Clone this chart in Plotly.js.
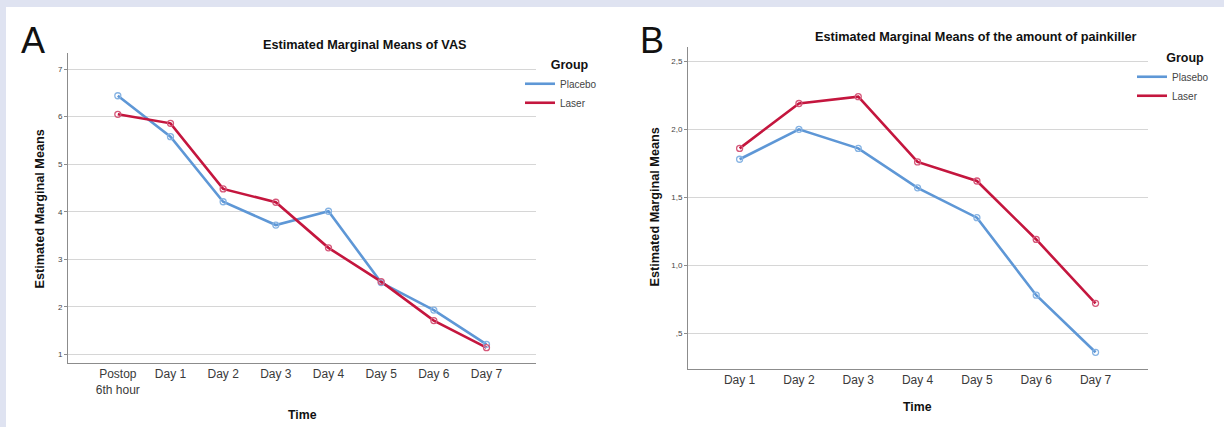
<!DOCTYPE html>
<html>
<head>
<meta charset="utf-8">
<script src="https://cdn.plot.ly/plotly-3.0.1.min.js"></script>
<style>html,body{margin:0;padding:0;background:#fff;}#chart{width:1224px;height:427px;}</style>
</head>
<body>
<div id="chart"></div>
<script>
// ---- Panel A: VAS ----
const timeA = ["Postop<br>6th hour", "Day 1", "Day 2", "Day 3", "Day 4", "Day 5", "Day 6", "Day 7"];
const vasPlacebo = [6.44, 5.58, 4.21, 3.72, 4.01, 2.51, 1.93, 1.21];
const vasLaser   = [6.05, 5.86, 4.48, 4.20, 3.24, 2.53, 1.71, 1.14];
const yTicksA = [1, 2, 3, 4, 5, 6, 7];
const yTickTextA = ["1", "2", "3", "4", "5", "6", "7"];

// ---- Panel B: amount of painkiller ----
const timeB = ["Day 1", "Day 2", "Day 3", "Day 4", "Day 5", "Day 6", "Day 7"];
const painPlacebo = [1.78, 2.00, 1.86, 1.57, 1.35, 0.78, 0.36];
const painLaser   = [1.86, 2.19, 2.24, 1.76, 1.62, 1.19, 0.72];
const yTicksB = [0.5, 1.0, 1.5, 2.0, 2.5];
const yTickTextB = [",5", "1,0", "1,5", "2,0", "2,5"];

const namesA = ["Placebo", "Laser"];
const namesB = ["Plasebo", "Laser"];

const BLUE = "#5e97d6", BLUE_M = "#86b3e3";
const RED = "#c4163e", RED_M = "#d5587a";
const FONT = "Liberation Sans, Arial, sans-serif";
const W = 1224, H = 427;
const px = x => x / W;
const py = y => 1 - y / H;

function lineTrace(x, y, name, color, xa, ya, leg) {
  return {x: x, y: y, name: name, type: "scatter", mode: "lines",
    line: {color: color, width: 2.6}, xaxis: xa, yaxis: ya, legend: leg, hoverinfo: "x+y+name"};
}
function markerTrace(x, y, name, color, xa, ya) {
  return {x: x, y: y, name: name, type: "scatter", mode: "markers", showlegend: false,
    marker: {symbol: "circle-open", size: 6, color: color, line: {color: color, width: 1.3}},
    xaxis: xa, yaxis: ya, hoverinfo: "skip"};
}

const data = [
  lineTrace(timeA, vasPlacebo, namesA[0], BLUE, "x", "y", "legend"),
  lineTrace(timeA, vasLaser, namesA[1], RED, "x", "y", "legend"),
  markerTrace(timeA, vasPlacebo, namesA[0], BLUE_M, "x", "y"),
  markerTrace(timeA, vasLaser, namesA[1], RED_M, "x", "y"),
  lineTrace(timeB, painPlacebo, namesB[0], BLUE, "x2", "y2", "legend2"),
  lineTrace(timeB, painLaser, namesB[1], RED, "x2", "y2", "legend2"),
  markerTrace(timeB, painPlacebo, namesB[0], BLUE_M, "x2", "y2"),
  markerTrace(timeB, painLaser, namesB[1], RED_M, "x2", "y2")
];

const xBase = {type: "category", showgrid: false, zeroline: false, showline: true,
  linecolor: "#8c8c8c", linewidth: 1, ticks: "", tickfont: {family: FONT, size: 12, color: "#3a3a3a"},
  fixedrange: true};
const yBase = {showgrid: true, gridcolor: "#d6d6d6", gridwidth: 1, zeroline: false, showline: true,
  linecolor: "#8c8c8c", linewidth: 1, ticks: "outside", ticklen: 3, tickcolor: "#8c8c8c",
  tickmode: "array", tickfont: {family: FONT, size: 8, color: "#444"}, fixedrange: true};

function ann(text, x, y, size, bold, angle) {
  return {text: bold ? "<b>" + text + "</b>" : text, x: px(x), y: py(y), xref: "paper", yref: "paper",
    xanchor: "center", yanchor: "middle", showarrow: false, textangle: angle || 0,
    font: {family: FONT, size: size, color: "#111"}};
}

const layout = {
  width: W, height: H,
  margin: {l: 0, r: 0, t: 0, b: 0},
  paper_bgcolor: "#ffffff", plot_bgcolor: "rgba(0,0,0,0)",
  font: {family: FONT},
  xaxis: Object.assign({}, xBase, {domain: [px(68), px(536)], range: [-0.946, 7.94], anchor: "y"}),
  yaxis: Object.assign({}, yBase, {domain: [py(363), py(53)], range: [0.817, 7.34], tickvals: yTicksA, ticktext: yTickTextA, anchor: "x"}),
  xaxis2: Object.assign({}, xBase, {domain: [px(688), px(1148)], range: [-0.87, 6.884], anchor: "y2"}),
  yaxis2: Object.assign({}, yBase, {domain: [py(369), py(46.7)], range: [0.237, 2.608], tickvals: yTicksB, ticktext: yTickTextB, anchor: "x2"}),
  showlegend: true,
  legend: {x: px(520), y: py(53), xanchor: "left", yanchor: "top", bgcolor: "rgba(0,0,0,0)",
    title: {text: "&nbsp;&nbsp;&nbsp;&nbsp;&nbsp;<b>Group</b>", side: "top center", font: {family: FONT, size: 12.5, color: "#111"}},
    font: {family: FONT, size: 10, color: "#444"}, tracegroupgap: 0, itemwidth: 30},
  legend2: {x: px(1132), y: py(46), xanchor: "left", yanchor: "top", bgcolor: "rgba(0,0,0,0)",
    title: {text: "&nbsp;&nbsp;&nbsp;&nbsp;&nbsp;&nbsp;&nbsp;<b>Group</b>", side: "top center", font: {family: FONT, size: 12.5, color: "#111"}},
    font: {family: FONT, size: 10, color: "#444"}, tracegroupgap: 0, itemwidth: 30},
  shapes: [
    {type: "rect", xref: "paper", yref: "paper", x0: 0, x1: px(6), y0: 0, y1: 1, fillcolor: "#dfe3f1", line: {width: 0}, layer: "below"},
    {type: "rect", xref: "paper", yref: "paper", x0: 0, x1: 1, y0: py(7), y1: 1, fillcolor: "#dfe3f1", line: {width: 0}, layer: "below"}
  ],
  annotations: [
    ann("A", 33, 40.5, 36, false),
    ann("B", 652, 40.5, 36, false),
    ann("Estimated Marginal Means of VAS", 365, 45, 12.7, true),
    ann("Estimated Marginal Means of the amount of painkiller", 976, 37.3, 12.7, true),
    ann("Estimated Marginal Means", 39.5, 209, 12.7, true, -90),
    ann("Estimated Marginal Means", 654, 207.5, 12.7, true, -90),
    ann("Time", 302.5, 415, 12.3, true),
    ann("Time", 917.4, 407, 12.3, true)
  ]
};

Plotly.newPlot("chart", data, layout, {displayModeBar: false, staticPlot: true});
</script>
</body>
</html>
